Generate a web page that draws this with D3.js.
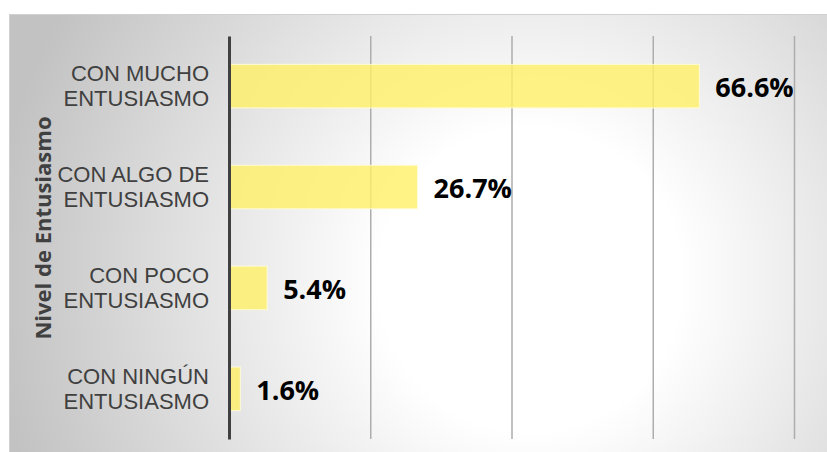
<!DOCTYPE html>
<html>
<head>
<meta charset="utf-8">
<script src="https://cdn.jsdelivr.net/npm/d3@7"></script>
<style>
    body { margin: 0; background: #fff; }
    svg { display: block; }
</style>
</head>
<body>
<div class="chartPlaceholder"></div>
<script>
const WIDTH = 827;
const HEIGHT = 452;
const PLOT = { TOP: 36, BOTTOM: 439, LEFT: 229, RIGHT: 794 };

// data
const categories = ['CON MUCHO ENTUSIASMO', 'CON ALGO DE ENTUSIASMO', 'CON POCO ENTUSIASMO', 'CON NINGÚN ENTUSIASMO'];
const categoryLines = [['CON MUCHO', 'ENTUSIASMO'], ['CON ALGO DE', 'ENTUSIASMO'], ['CON POCO', 'ENTUSIASMO'], ['CON NINGÚN', 'ENTUSIASMO']];
const values = [66.6, 26.7, 5.4, 1.6];
const gridValues = [20, 40, 60, 80];
const axisTitle = 'Nivel de Entusiasmo';

let svg = d3
    .select('.chartPlaceholder')
    .append('svg')
    .attr('width', WIDTH)
    .attr('height', HEIGHT);

// background
let defs = svg.append('defs');
let grad = defs.append('radialGradient')
    .attr('id', 'bg')
    .attr('gradientUnits', 'userSpaceOnUse')
    .attr('cx', 530).attr('cy', 280).attr('r', 540);
grad.append('stop').attr('offset', '0%').attr('stop-color', '#ffffff');
grad.append('stop').attr('offset', '28%').attr('stop-color', '#ffffff');
grad.append('stop').attr('offset', '100%').attr('stop-color', '#c2c2c2');

svg.append('rect')
    .attr('x', 9.5).attr('y', 14.5)
    .attr('width', WIDTH - 9).attr('height', HEIGHT - 14)
    .attr('fill', 'url(#bg)')
    .attr('stroke', '#d0d0d0');

// scales
let xScale = d3.scaleLinear().domain([0, 80]).range([PLOT.LEFT, PLOT.RIGHT]);
let yScale = d3.scaleBand()
    .domain(categories)
    .range([PLOT.TOP, PLOT.BOTTOM])
    .paddingInner(0.568)
    .paddingOuter(0.281);

// gridlines
let grid = svg.append('g')
    .attr('transform', `translate(0, ${PLOT.BOTTOM})`)
    .call(d3.axisBottom(xScale).tickValues(gridValues).tickSize(-(PLOT.BOTTOM - PLOT.TOP)).tickFormat(''));
grid.select('.domain').remove();
grid.selectAll('.tick line').attr('stroke', '#adadad').attr('stroke-width', 1.5);

// bars
svg.selectAll('rect.bar')
    .data(values)
    .enter()
    .append('rect')
    .attr('class', 'bar')
    .attr('x', xScale(0) + 1)
    .attr('y', (d, i) => yScale(categories[i]))
    .attr('width', d => xScale(d) - xScale(0) - 1)
    .attr('height', yScale.bandwidth())
    .attr('fill', '#fff066')
    .attr('fill-opacity', 0.8)
    .attr('stroke', '#fffbd8')
    .attr('stroke-width', 1);

// value labels
svg.selectAll('text.value')
    .data(values)
    .enter()
    .append('text')
    .attr('class', 'value')
    .attr('x', d => xScale(d) + 16)
    .attr('y', (d, i) => yScale(categories[i]) + yScale.bandwidth() / 2 + 11)
    .attr('font-family', 'Open Sans, sans-serif')
    .attr('font-weight', 700)
    .attr('font-size', 27)
    .attr('fill', '#000')
    .text(d => d.toFixed(1) + '%');

// y axis
let yAxis = svg.append('g')
    .attr('transform', `translate(${PLOT.LEFT}, 0)`)
    .call(d3.axisLeft(yScale).tickSize(0).tickPadding(20));
yAxis.select('.domain').attr('stroke', '#404040').attr('stroke-width', 3);
yAxis.selectAll('.tick text').each(function (d, i) {
    let t = d3.select(this)
        .attr('dy', null)
        .attr('font-family', 'Liberation Sans, Arial, sans-serif')
        .attr('font-size', 22)
        .attr('fill', '#404040')
        .text(null);
    categoryLines[i].forEach((line, j) => {
        t.append('tspan').attr('x', -20).attr('y', j === 0 ? -5 : 20).text(line);
    });
});

// axis title
svg.append('text')
    .attr('transform', 'translate(51, 228) rotate(-90)')
    .attr('text-anchor', 'middle')
    .attr('font-family', 'Open Sans, sans-serif')
    .attr('font-weight', 700)
    .attr('font-size', 22)
    .attr('fill', '#404040')
    .text(axisTitle);
</script>
</body>
</html>
